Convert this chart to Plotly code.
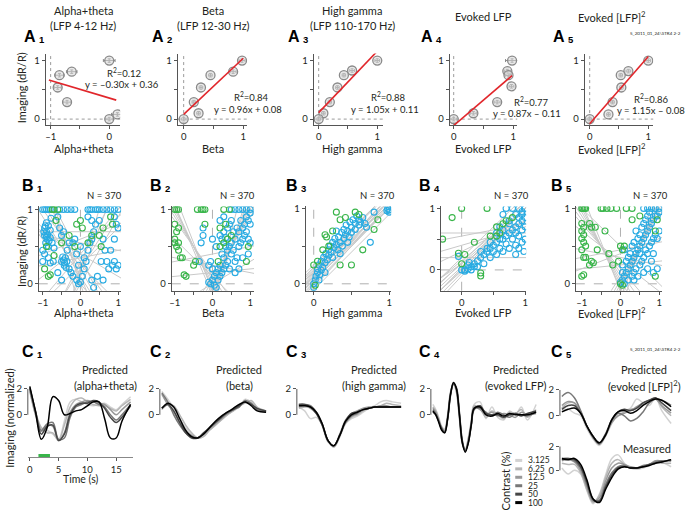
import plotly.graph_objects as go

W, H = 688, 514
FONT = "Lato, 'Open Sans', sans-serif"
BOLD = "'Liberation Sans', Arial, sans-serif"
INK = "#231f20"

# ---------------- Row A data ----------------
a_col_titles = ["Alpha+theta", "Beta", "High gamma", "Evoked LFP", "Evoked [LFP]<sup>2</sup>"]
a_col_sub = ["(LFP 4-12 Hz)", "(LFP 12-30 Hz)", "(LFP 110-170 Hz)", "", ""]
a1_x = [0.0, -0.64, -0.85, -0.88, -0.72, 0.0, 0.14]
a1_y = [1.0, 0.81, 0.75, 0.54, 0.29, 0.0, 0.08]
a1_xerr = [0.1, 0.09, 0.08, 0.06, 0.07, 0.06, 0.1]
a2_x = [0.98, 0.83, 0.45, 0.29, 0.17, 0.25, 0.0]
a2_y = [1.0, 0.81, 0.75, 0.54, 0.29, 0.10, 0.0]
a2_xerr = [0.05, 0.05, 0.03, 0.03, 0.03, 0.03, 0.04]
a3_x = [1.0, 0.57, 0.43, 0.32, 0.19, 0.08, 0.0]
a3_y = [1.0, 0.83, 0.75, 0.54, 0.29, 0.10, 0.0]
a3_xerr = [0.04, 0.04, 0.03, 0.03, 0.03, 0.03, 0.03]
a4_x = [0.98, 0.90, 0.92, 0.97, 0.73, 0.33, 0.0]
a4_y = [1.0, 0.82, 0.75, 0.56, 0.29, 0.10, 0.0]
a4_xerr = [0.11, 0.05, 0.05, 0.04, 0.05, 0.05, 0.05]
a5_x = [1.0, 0.66, 0.53, 0.54, 0.39, 0.32, 0.0]
a5_y = [1.0, 0.82, 0.75, 0.54, 0.29, 0.08, 0.0]
a5_xerr = [0.04, 0.04, 0.03, 0.03, 0.03, 0.03, 0.03]
a_yerr = [0.03, 0.03, 0.03, 0.03, 0.03, 0.03, 0.03]
a_slopes = [-0.30, 0.96, 1.05, 0.87, 1.15]
a_intercepts = [0.36, 0.08, 0.11, -0.11, -0.08]
a_r2 = [0.12, 0.84, 0.88, 0.77, 0.86]
a_fit_lo = [-1.03, 0.0, 0.0, 0.0, 0.0]
a_fit_hi = [0.12, 1.0, 1.02, 0.98, 1.0]
a_ref_x = [-1, 0, 0, 0, 0]

# ---------------- Row B data ----------------
b_n = 370
b1_blue = [[-1.0,1],[-0.95,1],[-0.9,1],[-0.85,1],[-0.8,1],[-0.55,1],[-0.45,1],[-0.35,1],[-0.25,1],[-0.15,1],
           [0.2,1],[0.25,1],[0.3,1],[0.4,1],[0.45,1],[0.5,1],[0.6,1],[0.7,1],[0.8,1],[0.9,1],[1.0,1],
           [-0.95,0.75],[-0.9,0.7],[-0.85,0.78],[-0.8,0.72],[-0.95,0.65],[-0.88,0.6],[-0.92,0.55],[-0.85,0.5],
           [-1.0,0.45],[-0.95,0.4],[-0.8,0.62],[-0.75,0.55],[-0.7,0.48],[-0.9,0.82],[-0.78,0.88],[-1.0,0.3],
           [-0.85,0.35],[-0.8,0.28],[-0.72,0.3],[-0.45,0.32],[-0.42,0.28],[-0.5,0.3],[-0.4,0.35],[-0.38,0.22],
           [-0.3,0.2],[-0.25,0.15],[-0.2,0.1],[-0.35,0.45],[-0.55,0.75],[-0.5,0.65],[-0.45,0.7],[-0.6,0.9],
           [-0.2,0.55],[-0.15,0.6],[-0.1,0.4],[-0.05,0.0],[0.0,0.02],[0.05,0.1],[-0.1,0.05],[0.1,0.2],
           [0.15,0.3],[0.2,0.45],[0.25,0.55],[0.3,0.6],[0.35,0.7],[0.4,0.8],[0.5,0.85],[0.6,0.6],[0.7,0.3],
           [0.75,0.2],[0.85,0.25],[0.9,0.3],[0.95,0.2],[1.0,0.25],[0.3,0.05],[0.35,-0.05],[0.45,0.1],
           [0.55,0.3],[0.65,0.45],[0.8,0.45],[0.9,0.6],[0.95,0.8],[1.0,0.75],[0.9,0.9],[0.6,0.05],[0.0,0.5],
           [-0.05,0.25],[0.1,0.35],[-0.6,0.15],[-0.5,0.05],[-0.3,0.55],[0.2,0.9],[0.3,0.85],
           [-0.97,0.7],[-0.93,0.78],[-0.87,0.66],[-0.83,0.58],[-0.9,0.63],[-0.47,0.36],[-0.43,0.25],[-0.36,0.3]]
b1_green = [[-0.95,0.2],[-0.85,0.1],[-0.8,0.12],[-0.9,0.5],[-0.7,0.38],[-0.65,0.85],[-0.5,0.55],[-0.1,0.8],
            [0.0,0.85],[0.05,0.75],[0.3,0.65],[0.5,0.65],[0.6,0.75],[0.8,0.9],[0.85,0.8],[-0.75,1.0],
            [-0.7,1.0],[-0.6,1.0],[0.55,0.5],[-0.3,0.65],[-0.15,0.5],[0.2,0.55]]
b1_line_slopes = [-1.2, -0.9, -0.7, -0.5, -1.5, -0.3, -0.8, 1.0, 0.8, 0.6, 1.3, 0.4, 0.2, -0.1, 0.0, 0.1, -0.6, 0.9, -1.0, 0.5, 1.6, -2.0]
b1_line_icpts = [0.1, 0.2, 0.3, 0.25, 0.0, 0.4, 0.1, 0.3, 0.2, 0.4, 0.1, 0.5, 0.6, 0.55, 0.7, 0.35, 0.0, 0.0, 0.35, 0.25, 0.2, -0.4]

b2_blue = [[0.5,1],[0.6,1],[0.7,1],[0.8,1],[0.9,1],[1,1],[1,0.95],[0.95,0.85],[0.9,0.9],[0.85,0.8],[0.8,0.75],
           [0.75,0.85],[0.7,0.7],[0.65,0.75],[0.6,0.6],[0.55,0.7],[0.5,0.55],[0.45,0.5],[0.4,0.45],[0.35,0.5],
           [0.3,0.35],[0.25,0.4],[0.2,0.25],[0.15,0.2],[0.1,0.15],[0.05,0.1],[0.0,0.05],[-0.05,0.0],[-0.1,0.02],
           [0.05,-0.02],[0.1,-0.05],[0.2,0.1],[0.25,0.15],[0.3,0.2],[0.35,0.25],[0.4,0.3],[0.45,0.2],[0.5,0.4],
           [0.55,0.45],[0.6,0.3],[0.65,0.35],[0.7,0.5],[0.75,0.55],[0.8,0.6],[0.85,0.65],[0.9,0.7],[0.95,0.6],
           [1.0,0.8],[0.3,0.7],[0.25,0.6],[0.2,0.65],[0.35,0.62],[0.45,0.8],[0.5,0.85],[0.4,0.75],[0.1,0.5],
           [-0.05,0.3],[-0.1,0.25],[-0.25,0.65],[-0.25,0.75],[-0.3,0.55],[-0.35,0.3],[0.15,0.05],[0.0,0.2],
           [0.6,0.15],[0.7,0.2],[0.95,0.4],[0.8,0.35],[0.2,0.85],[0.3,0.9],[1.0,0.55],[0.0,0.6]]
b2_green = [[-1,1],[-0.95,1],[-0.9,1],[-0.4,1],[-0.3,1],[-0.25,1],[-0.2,1],[0.3,1],[0.45,1],[-1,0.8],[-0.95,0.7],
            [-0.9,0.75],[-1,0.55],[-0.95,0.5],[-0.9,0.45],[-0.85,0.35],[-0.8,0.35],[-1.0,0.6],[-0.9,0.55],
            [-0.5,0.25],[-0.45,0.3],[-0.7,0.1],[-0.75,0.12],[0.2,0.5],[0.3,0.55],[0.2,0.75],[0.35,0.8],[0.4,0.6],
            [0.5,0.65],[0.9,0.3],[0.95,0.5],[0.15,0.3],[-0.2,0.8]]
b2_line_slopes = [-1.0, -0.9, -1.1, -0.8, -1.3, -0.7, 1.0, 1.1, 0.9, 1.2, 0.8, 1.4, 0.1, -0.1, 0.05, 0.3, -0.5, 1.6, -1.2, 2.0]
b2_line_icpts = [0.0, 0.05, -0.05, 0.1, -0.1, 0.15, 0.0, -0.05, 0.05, -0.1, 0.1, -0.2, 0.4, 0.25, 0.15, 0.0, 0.1, -0.3, -0.15, -0.3]

b3_blue = [[0,0],[0,-0.05],[0.02,0.05],[0.03,0.1],[0.05,0.15],[0.05,0.2],[0.07,0.25],[0.08,0.12],[0.1,0.18],
           [0.1,0.3],[0.12,0.22],[0.13,0.35],[0.15,0.28],[0.16,0.4],[0.18,0.32],[0.2,0.45],[0.2,0.38],[0.22,0.5],
           [0.23,0.42],[0.25,0.55],[0.25,0.35],[0.27,0.48],[0.28,0.6],[0.3,0.52],[0.3,0.7],[0.32,0.45],[0.33,0.62],
           [0.35,0.55],[0.37,0.68],[0.38,0.5],[0.4,0.72],[0.4,0.6],[0.42,0.65],[0.43,0.78],[0.45,0.7],[0.47,0.62],
           [0.48,0.82],[0.5,0.75],[0.5,0.68],[0.52,0.85],[0.55,0.8],[0.55,0.72],[0.57,0.9],[0.6,0.85],[0.6,0.78],
           [0.62,0.82],[0.65,0.88],[0.68,0.8],[0.7,0.75],[0.75,0.55],[0.8,0.95],[0.98,1],[1,0.95],[1,0.98],
           [0.97,0.97],[0.15,0.15],[0.07,0.05],[0.35,0.4],[0.45,0.55]]
b3_green = [[0.3,0.95],[0.35,0.85],[0.15,0.65],[0.17,0.62],[0.2,0.5],[0.12,0.45],[0.05,0.3],[0.0,0.25],[0.55,0.95],
            [0.6,0.92],[0.65,0.45],[0.8,0.72],[0.85,0.85],[0.5,0.25],[0.35,0.25],[0.02,-0.02],[0.42,0.88],[0.25,0.7]]
b3_line_slopes = [1.0, 0.95, 1.05, 0.9, 1.1, 1.0, 0.98, 1.02, 0.92, 1.08, 1.0, 0.96, 1.04, 0.9, 1.1, 1.0, 0.97, 1.03, 0.94, 1.06]
b3_line_icpts = [0.0, 0.05, 0.1, 0.15, -0.05, 0.2, 0.08, 0.12, 0.18, 0.02, -0.08, 0.25, 0.06, 0.1, 0.14, 0.22, 0.04, -0.02, 0.16, 0.1]

b4_blue = [[-0.05,0.22],[0.0,0.0],[0.05,0.0],[0.1,0.02],[0.15,0.05],[0.2,0.1],[0.25,0.15],[0.3,0.2],[0.35,0.25],
           [0.4,0.3],[0.45,0.35],[0.5,0.4],[0.55,0.45],[0.6,0.35],[0.65,0.5],[0.7,0.55],[0.75,0.6],[0.8,0.65],
           [0.85,0.7],[0.9,0.75],[0.95,0.8],[1.0,0.85],[0.1,0.08],[0.2,0.05],[0.45,0.2],[0.55,0.25],[0.65,0.3],
           [0.75,0.35],[0.85,0.4],[0.95,0.45],[1.0,0.5],[0.9,0.55],[0.8,0.5],[0.7,0.42],[0.6,0.5],[0.75,0.8],
           [0.85,0.9],[0.9,1.0],[0.95,0.95],[1.0,1.0],[0.8,1.0],[0.7,1.0],[0.65,0.9],[0.75,0.75],[0.85,0.6],
           [0.95,0.65],[1.0,0.7],[0.9,0.85],[0.55,0.6],[0.45,0.45],[0.35,0.1],[0.25,0.05],[0.15,0.0],[0.05,-0.02],
           [0.12,0.12],[0.6,0.7],[0.9,0.35],[0.98,0.3],[0.85,0.25],[0.5,0.3],[0.4,0.35],[0.3,0.3],[0.65,0.65],[0.95,0.9]]
b4_green = [[0,1],[-0.15,0.85],[-0.3,0.5],[-0.05,0.27],[0,0.1],[0.05,0.25],[0.4,1.0],[0.55,0.55],[0.6,0.6],
            [0.55,0.7],[0.45,0.55],[0.65,0.75],[0.7,0.8],[0.3,-0.05],[0.3,-0.1],[0.8,0.85],[0.2,0.45]]
b4_line_slopes = [1.0, 0.95, 1.05, 0.9, 1.1, 0.85, 1.0, 0.92, 1.08, 0.0, 0.0, 0.3, 0.5, 0.2, 0.7, 1.0]
b4_line_icpts = [0.0, 0.05, -0.05, 0.1, -0.1, 0.15, 0.12, -0.02, 0.03, 0.6, 0.2, 0.4, 0.3, 0.55, 0.1, 0.2]

b5_blue = [[0.6,1],[0.7,1],[0.8,1],[0.9,1],[1,1],[1,0.95],[0.95,0.9],[0.9,0.9],[0.85,0.85],[0.8,0.8],[0.75,0.75],
           [0.7,0.7],[0.65,0.65],[0.6,0.6],[0.55,0.55],[0.5,0.5],[0.45,0.45],[0.4,0.4],[0.35,0.35],[0.3,0.3],
           [0.25,0.25],[0.2,0.2],[0.15,0.15],[0.1,0.1],[0.05,0.05],[0.0,0.02],[0.1,0.0],[0.2,0.05],[0.3,0.1],
           [0.35,0.15],[0.4,0.2],[0.5,0.25],[0.55,0.3],[0.6,0.35],[0.7,0.4],[0.75,0.5],[0.8,0.55],[0.85,0.6],
           [0.9,0.65],[0.95,0.6],[1.0,0.7],[0.5,0.65],[0.45,0.6],[0.55,0.75],[0.6,0.8],[0.65,0.85],[0.7,0.9],
           [0.75,0.95],[0.4,0.7],[0.35,0.55],[0.3,0.5],[0.25,0.4],[0.2,0.35],[0.6,0.15],[0.7,0.2],[0.85,0.15],
           [0.95,0.2],[0.45,0.1],[0.35,0.05],[0.8,0.3],[0.65,0.45],[0.5,0.4],[0.85,0.4],[0.15,0.3],[0.1,0.45],
           [0.05,0.25],[0.05,0.15]]
b5_green = [[-1,1],[-0.97,1],[-0.93,1],[-0.9,1],[-0.5,1],[-0.45,1],[-0.35,1],[-0.25,1],[-0.1,1],[0.15,1],[0.3,1],
            [-1,0.8],[-0.95,0.75],[-1,0.7],[-0.95,0.65],[-1,0.6],[-0.95,0.55],[-0.9,0.5],[-1,0.45],[-0.95,0.35],
            [-0.9,0.35],[-0.75,0.3],[-0.7,0.28],[-0.8,0.25],[-1,0.1],[-0.95,0.12],[-0.8,0.8],[-0.75,0.75],
            [-0.65,0.75],[-0.6,0.45],[-0.4,0.7],[0.0,0.5],[0.05,0.45],[0.1,0.5],[-0.2,0.25],[-0.05,0.3],[0.3,0.85],
            [0.5,0.9],[0.9,0.7],[0.95,0.85],[0.0,0.0],[0.05,-0.02],[-0.3,0.4],[0.9,0.1]]
b5_line_slopes = [-1.0, -0.9, -1.1, -0.8, -1.3, -0.7, -0.6, 1.0, 1.1, 0.9, 1.2, 0.8, 1.4, 0.1, -0.1, 0.05, 0.2, -0.4, 1.8, -0.5]
b5_line_icpts = [0.0, 0.05, -0.05, 0.1, -0.1, 0.15, 0.2, 0.0, -0.05, 0.05, -0.1, 0.1, -0.2, 0.45, 0.35, 0.25, 0.4, 0.3, -0.4, 0.5]

# ---------------- Row C data ----------------
contrast_labels = ["3.125", "6.25", "12.5", "25", "50", "100"]
contrast_colors = ["#d2d2d2", "#b6b6b6", "#999999", "#787878", "#464646", "#000000"]
t_std = [0, 1, 2, 3, 4, 5, 6, 7, 8, 9, 10, 11, 12, 13, 14, 15, 16, 17.5]
t_c4 = [0, 0.5, 1, 1.5, 2, 2.5, 3, 3.5, 4, 4.5, 5, 5.5, 6, 6.5, 7, 8, 9, 10, 11, 12, 13, 14, 15, 16, 17.5]
stim_on_off = [1.5, 3.5]
c1_curves = [
    [1.8, 0.0, -1.0, -1.2, -1.5, -1.9, -0.5, 1.0, 1.2, 1.0, 0.8, 0.7, 0.8, 0.9, 0.6, 0.4, 0.8, 1.4],
    [2.0, 0.2, -1.0, -1.4, -1.4, -2.0, -0.8, 0.6, 1.2, 1.3, 1.0, 0.8, 0.7, 0.7, 0.5, 0.3, 0.7, 1.2],
    [1.9, 0.0, -1.3, -0.8, -0.9, -2.0, -1.4, 0.2, 0.8, 1.0, 1.1, 1.0, 0.9, 0.8, 0.4, 0.0, 0.4, 1.0],
    [2.0, 0.2, -1.2, -0.7, -0.6, -1.9, -1.8, -0.2, 0.6, 0.8, 1.0, 1.0, 0.8, 0.6, 0.0, -0.4, 0.0, 0.8],
    [2.1, 0.3, -1.5, -0.9, -0.8, -2.0, -1.5, 0.0, 0.7, 0.9, 0.9, 1.1, 1.0, 0.5, -0.2, -0.6, -0.2, 0.7],
    [2.2, 0.2, -1.9, -1.0, 1.4, 1.1, 0.0, 0.1, 0.3, 0.4, 0.7, 1.0, 1.0, -0.3, -1.8, -1.8, -0.5, 0.8],
]
c2_curves = [
    [1.8, 1.2, 0.5, -0.3, -1.0, -1.5, -1.8, -1.6, -1.2, -0.8, -0.4, 0.0, 0.3, 0.6, 1.2, 1.0, 0.5, 0.2],
    [0.4, 0.8, 0.7, 0.0, -0.8, -1.4, -1.8, -1.7, -1.2, -0.8, -0.4, 0.0, 0.3, 0.7, 0.9, 1.1, 0.6, 0.3],
    [1.6, 0.8, 0.2, -0.6, -1.3, -1.6, -1.8, -1.5, -1.1, -0.7, -0.3, 0.1, 0.4, 0.8, 1.0, 0.8, 0.4, 0.2],
    [1.7, 1.0, 0.0, -0.8, -1.4, -1.7, -1.8, -1.5, -1.0, -0.6, -0.2, 0.1, 0.4, 0.6, 1.1, 0.9, 0.4, 0.3],
    [0.5, 0.8, 0.3, -0.6, -1.4, -1.8, -1.8, -1.4, -1.0, -0.6, -0.2, 0.2, 0.4, 0.7, 1.0, 0.8, 0.5, 0.3],
    [0.5, 0.9, 0.6, -0.3, -1.2, -1.7, -1.8, -1.5, -1.0, -0.5, -0.1, 0.2, 0.5, 0.8, 1.0, 0.7, 0.3, 0.2],
]
c3_curves = [
    [0.6, 0.3, -0.3, -0.2, -0.8, -2.0, -2.5, -1.7, -0.7, -0.3, -0.1, 0.2, 0.5, 0.7, 1.0, 1.1, 1.0, 0.9],
    [0.5, 0.6, 0.6, 0.2, -0.7, -2.0, -2.5, -1.7, -0.6, -0.2, 0.0, 0.3, 0.5, 0.6, 0.7, 0.9, 0.8, 0.7],
    [0.6, 0.7, 0.5, 0.1, -0.8, -2.1, -2.4, -1.5, -0.4, 0.1, 0.3, 0.5, 0.6, 0.6, 0.7, 0.7, 0.6, 0.6],
    [0.8, 0.8, 0.7, 0.2, -0.7, -2.0, -2.4, -1.6, -0.6, -0.1, 0.1, 0.4, 0.5, 0.6, 0.6, 0.6, 0.6, 0.6],
    [0.8, 0.8, 0.6, 0.1, -0.8, -2.0, -2.4, -1.6, -0.5, 0.1, 0.2, 0.4, 0.5, 0.6, 0.6, 0.6, 0.6, 0.6],
    [0.7, 0.7, 0.6, 0.2, -0.7, -2.0, -2.4, -1.6, -0.5, 0.0, 0.2, 0.4, 0.5, 0.6, 0.6, 0.6, 0.6, 0.6],
]
c4_curves = [
    [0.8, 0.4, -0.2, -0.9, -1.1, 0.0, 1.8, 2.3, 1.7, -0.3, -2.3, -2.7, -1.8, -0.5, 0.8, 1.0, -0.3, 0.6, -0.2, -0.4, 0.3, 0.0, 0.6, -0.4, 0.8],
    [0.6, 0.3, -0.3, -1.0, -1.2, -0.1, 1.7, 2.4, 1.8, -0.2, -2.2, -2.7, -1.9, -0.6, 0.7, 0.5, -0.2, 0.3, 0.0, -0.3, 0.2, 0.1, 0.4, -0.2, 0.4],
    [0.5, 0.2, -0.4, -1.1, -1.3, -0.2, 1.7, 2.5, 1.9, -0.1, -2.2, -2.8, -2.0, -0.7, 0.6, 0.4, 0.0, 0.2, -0.1, 0.1, 0.0, -0.2, 0.2, 0.0, 0.1],
    [0.4, 0.1, -0.5, -1.0, -1.3, -0.3, 1.6, 2.4, 2.0, 0.1, -2.1, -2.8, -2.1, -0.8, 0.5, 0.5, 0.2, -0.1, 0.2, 0.0, -0.2, 0.1, 0.0, -0.1, 0.2],
    [0.2, 0.0, -0.5, -1.1, -1.4, -0.4, 1.5, 2.4, 2.1, 0.2, -2.0, -2.8, -2.2, -0.9, 0.4, 0.7, 0.1, 0.0, 0.0, -0.2, 0.0, 0.1, -0.1, 0.1, 0.3],
    [0.3, 0.0, -0.6, -1.2, -1.4, -0.3, 1.6, 2.5, 2.0, 0.0, -2.2, -2.9, -2.2, -0.8, 0.5, 0.6, 0.0, -0.1, 0.1, -0.1, 0.1, 0.0, 0.0, 0.0, 0.2],
]
c5_curves = [
    [0.4, 0.5, 0.2, 0.0, -1.0, -1.8, -2.3, -1.6, -0.6, 0.2, 0.4, 0.6, 1.3, 1.0, 0.8, 1.4, 0.4, -0.6],
    [0.6, 1.0, 1.0, 0.3, -0.8, -1.6, -2.2, -1.5, -0.5, 0.0, 0.3, 0.5, 0.6, 0.9, 1.2, 1.4, 0.7, 0.0],
    [0.8, 1.1, 1.0, 0.3, -0.8, -1.6, -2.1, -1.5, -0.5, 0.0, 0.2, 0.4, 0.7, 1.0, 1.2, 1.3, 0.8, 0.2],
    [1.5, 1.8, 1.4, 0.4, -0.8, -1.7, -2.2, -1.5, -0.4, 0.2, 0.0, -0.4, -0.2, 0.3, 1.0, 1.3, 1.2, 0.8],
    [0.5, 0.8, 0.8, 0.2, -0.8, -1.6, -2.1, -1.4, -0.3, 0.3, 0.5, 0.4, 0.6, 1.0, 1.2, 1.4, 1.0, 0.4],
    [0.3, 0.5, 0.6, 0.2, -0.8, -1.6, -2.1, -1.5, -0.3, 0.3, 0.4, 0.2, 0.4, 0.8, 1.1, 1.3, 1.2, 0.7],
]
measured_curves = [
    [0.2, -0.3, 0.0, -0.3, -1.7, -2.8, -2.0, -0.4, 1.0, 1.3, 0.6, 0.2, 0.1, 0.2, 0.4, 0.8, 0.7, 0.3],
    [0.6, 0.5, 0.5, -0.2, -1.6, -2.7, -2.1, -0.6, 0.6, 0.9, 0.5, 0.2, 0.2, 0.3, 0.5, 0.7, 0.6, 0.6],
    [0.8, 0.9, 0.7, 0.0, -1.4, -2.6, -2.3, -0.9, 0.2, 0.6, 0.5, 0.3, 0.2, 0.3, 0.5, 0.8, 0.8, 0.8],
    [1.0, 1.0, 0.8, 0.2, -1.2, -2.5, -2.5, -1.2, -0.2, 0.3, 0.4, 0.2, 0.2, 0.4, 0.5, 0.7, 0.8, 0.8],
    [0.9, 1.0, 0.9, 0.3, -1.0, -2.4, -2.6, -1.4, -0.4, 0.2, 0.3, 0.2, 0.2, 0.3, 0.5, 0.6, 0.7, 0.9],
    [1.0, 0.9, 1.0, 0.5, -0.8, -2.4, -2.7, -1.6, -0.6, 0.1, 0.3, 0.2, 0.2, 0.3, 0.4, 0.6, 0.7, 0.9],
]
c_titles = ["(alpha+theta)", "(beta)", "(high gamma)", "(evoked LFP)", "(evoked [LFP]<sup>2</sup>)"]
file_tag = "5_2011_01_24\\STR4 2-2"

# ---------------- figure building ----------------
fig = go.Figure()
layout = {}
shapes = []
annotations = []


def px_range(lo_px, hi_px, pa, va, pb, vb):
    k = (vb - va) / (pb - pa)
    return [va + (lo_px - pa) * k, va + (hi_px - pa) * k]


def axname(i, a):
    return f"{a}axis" if i == 1 else f"{a}axis{i}"


def ref(i, a):
    return a if i == 1 else f"{a}{i}"


AX = dict(showgrid=False, zeroline=False, linecolor="#555555", linewidth=1, ticks="outside",
          ticklen=3, tickwidth=1, tickcolor="#555555", tickfont=dict(size=9.5, color=INK, family=FONT),
          fixedrange=True)


def set_axes(i, box, xcal, ycal, xticks=None, yticks=None, xvisible=True, yline=True):
    l, r, t, b = box
    xr = px_range(l, r, *xcal)
    yr = px_range(b, t, *ycal)
    xa = dict(AX, domain=[l / W, r / W], range=xr, anchor=ref(i, "y"))
    ya = dict(AX, domain=[1 - b / H, 1 - t / H], range=yr, anchor=ref(i, "x"))
    if xticks:
        xa.update(tickvals=xticks[0], ticktext=[str(v).replace("-", "\u2013") for v in xticks[0]], showline=True)
        if len(xticks) > 1:
            xa.update(minor=dict(tickvals=xticks[1], ticks="outside", ticklen=3, tickcolor="#555555"))
    if not xvisible:
        xa.update(showline=False, ticks="", showticklabels=False)
    if yticks:
        ya.update(tickvals=yticks[0], ticktext=[str(v) for v in yticks[0]])
        if len(yticks) > 1:
            ya.update(minor=dict(tickvals=yticks[1], ticks="outside", ticklen=3, tickcolor="#555555"))
    ya.update(showline=yline)
    layout[axname(i, "x")] = xa
    layout[axname(i, "y")] = ya
    return xr, yr


def ann(text, px, py, size=11, xanchor="center", yanchor="middle", angle=0, family=FONT, color=INK):
    annotations.append(dict(text=text, x=px / W, y=1 - py / H, xref="paper", yref="paper", showarrow=False,
                            xanchor=xanchor, yanchor=yanchor, textangle=angle,
                            font=dict(size=size, family=family, color=color)))


def panel_label(letter, num, px, py):
    ann(f"<b>{letter}</b>", px, py, size=16, family=BOLD, color="#000")
    ann(f"<b>{num}</b>", px + 7, py + 3, size=9.5, family=BOLD, color="#000", xanchor="left")


def fmt_eq(s, b):
    sign = "+" if b >= 0 else "\u2013"
    st = f"{s:.2f}".replace("-", "\u2013")
    return f"y = {st}x {sign} {abs(b):.2f}"


# ---------- Row A ----------
a_x = [a1_x, a2_x, a3_x, a4_x, a5_x]
a_y = [a1_y, a2_y, a3_y, a4_y, a5_y]
a_xerr = [a1_xerr, a2_xerr, a3_xerr, a4_xerr, a5_xerr]
a_boxes = [(43, 118, 50, 122), (176, 246, 50, 122), (313, 383, 50, 122), (450, 518, 50, 122), (586, 655, 50, 122)]
a_xcal = [(48, -1, 107, 0), (182, 0, 242, 1), (318, 0, 377, 1), (454, 0, 514, 1), (591, 0, 650, 1)]
a_ycal = (116, 0, 57, 1)
a_title_x = [81, 212, 352, 484, 613]
a_label_x = [27, 156, 293, 427, 560]
a_r2_pos = [(122, 69), (250, 93), (388, 93), (532, 98), (653, 95)]
a_eq_pos = [(120, 81), (247, 106), (385, 106), (528, 110), (653, 107)]
for k in range(5):
    i = k + 1
    xt = ([-1, 0], [-0.5]) if k == 0 else ([0, 1], [0.5])
    yt = ([0, 1], [0.5])
    xr, yr = set_axes(i, a_boxes[k], a_xcal[k], a_ycal, xt, yt)
    shapes.append(dict(type="line", xref=ref(i, "x"), yref=f"{ref(i, 'y')} domain", x0=a_ref_x[k], x1=a_ref_x[k],
                       y0=0, y1=1, line=dict(color="#9a9a9a", width=1, dash="dot"), layer="below"))
    shapes.append(dict(type="line", xref=f"{ref(i, 'x')} domain", yref=ref(i, "y"), x0=0, x1=1, y0=0, y1=0,
                       line=dict(color="#9a9a9a", width=1, dash="dot"), layer="below"))
    fig.add_trace(go.Scatter(x=a_x[k], y=a_y[k], mode="markers", xaxis=ref(i, "x"), yaxis=ref(i, "y"),
                             marker=dict(size=9, color="rgba(215,215,215,0.55)", line=dict(color="#8a8a8a", width=1.3)),
                             error_x=dict(type="data", array=a_xerr[k], color="#8a8a8a", thickness=1, width=1.5),
                             error_y=dict(type="data", array=a_yerr, color="#8a8a8a", thickness=1, width=1.5),
                             showlegend=False, hoverinfo="skip"))
    lo, hi = a_fit_lo[k], a_fit_hi[k]
    fig.add_trace(go.Scatter(x=[lo, hi], y=[a_slopes[k] * lo + a_intercepts[k], a_slopes[k] * hi + a_intercepts[k]],
                             mode="lines", line=dict(color="#e1262b", width=1.6), xaxis=ref(i, "x"),
                             yaxis=ref(i, "y"), showlegend=False, hoverinfo="skip", cliponaxis=False))
    ann(f"R<sup>2</sup>={a_r2[k]:.2f}", *a_r2_pos[k], size=9.5)
    ann(fmt_eq(a_slopes[k], a_intercepts[k]), *a_eq_pos[k], size=9.5)
    ann(a_col_titles[k], a_title_x[k], 146, size=11)
    panel_label("A", k + 1, a_label_x[k], 33)
    if a_col_sub[k]:
        ann(a_col_titles[k], a_title_x[k], 7, size=11)
        ann(a_col_sub[k], a_title_x[k], 22, size=11)
    else:
        ann(a_col_titles[k], a_title_x[k], 13, size=11)
ann("Imaging (dR/R)", 18, 84, size=11, angle=-90)
ann(file_tag, 657, 30, size=4.5)

# ---------- Row B ----------
b_blue = [b1_blue, b2_blue, b3_blue, b4_blue, b5_blue]
b_green = [b1_green, b2_green, b3_green, b4_green, b5_green]
b_slopes = [b1_line_slopes, b2_line_slopes, b3_line_slopes, b4_line_slopes, b5_line_slopes]
b_icpts = [b1_line_icpts, b2_line_icpts, b3_line_icpts, b4_line_icpts, b5_line_icpts]
b_boxes = [(36, 119, 204, 289), (170, 253, 204, 289), (305, 391, 204, 289), (441, 527, 204, 289), (577, 664, 204, 289)]
b_xcal = [(40, -1, 116, 1), (173, -1, 249, 1), (313, 0, 389, 1), (462, 0, 526, 1), (583, -1, 661, 1)]
b_ycal = [(282, 0, 207, 1), (282, 0, 207, 1), (282, 0, 206, 1), (268, 0, 206, 1), (282, 0, 206, 1)]
b_n_x = [102, 236, 377, 512, 652]
b_xt_full = ([-1, 0, 1], [-0.5, 0.5])
b_xt_half = ([0, 1], [0.5])
b_xt = [b_xt_full, b_xt_full, b_xt_half, b_xt_half, b_xt_full]
for k in range(5):
    i = 6 + k
    xr, yr = set_axes(i, b_boxes[k], b_xcal[k], b_ycal[k], b_xt[k], ([0, 1], [0.5]))
    for s, c in zip(b_slopes[k], b_icpts[k]):
        fig.add_trace(go.Scatter(x=[xr[0], xr[1]], y=[s * xr[0] + c, s * xr[1] + c], mode="lines",
                                 line=dict(color="#c9c9c9", width=1), xaxis=ref(i, "x"), yaxis=ref(i, "y"),
                                 showlegend=False, hoverinfo="skip"))
    shapes.append(dict(type="line", xref=ref(i, "x"), yref=f"{ref(i, 'y')} domain", x0=0, x1=0, y0=0, y1=1,
                       line=dict(color="#b0b0b0", width=1, dash="dash"), layer="below"))
    shapes.append(dict(type="line", xref=f"{ref(i, 'x')} domain", yref=ref(i, "y"), x0=0, x1=1, y0=0, y1=0,
                       line=dict(color="#b0b0b0", width=1, dash="dash"), layer="below"))
    fig.add_trace(go.Scatter(x=[p[0] for p in b_blue[k]], y=[p[1] for p in b_blue[k]], mode="markers",
                             marker=dict(symbol="circle-open", size=6, color="#29abe2", line=dict(width=1.1)),
                             xaxis=ref(i, "x"), yaxis=ref(i, "y"), showlegend=False, hoverinfo="skip"))
    fig.add_trace(go.Scatter(x=[p[0] for p in b_green[k]], y=[p[1] for p in b_green[k]], mode="markers",
                             marker=dict(symbol="circle-open", size=6, color="#39b54a", line=dict(width=1.1)),
                             xaxis=ref(i, "x"), yaxis=ref(i, "y"), showlegend=False, hoverinfo="skip"))
    ann(f"N = {b_n}", b_n_x[k], 193, size=9.5)
    ann(a_col_titles[k], a_title_x[k], 311, size=11)
    panel_label("B", k + 1, a_label_x[k] - 2, 183)
ann("Imaging (dR/R)", 18, 249, size=11, angle=-90)

# ---------- Row C ----------
c_curves = [c1_curves, c2_curves, c3_curves, c4_curves, c5_curves]
c_times = [t_std, t_std, t_std, t_c4, t_std]
c_boxes = [(25, 131, 380, 457), (158, 266, 380, 457), (296, 404, 380, 457), (431, 539, 380, 457), (561, 676, 380, 457)]
c_xcal = [(27, 0, 114, 15), (160, 0, 265, 17.5), (298, 0, 401, 17.5), (433, 0, 537, 17.5), (563, 0, 673, 17.5)]
c_ycal = [(414, 0, 388, 2), (414, 0, 388, 2), (414, 0, 388, 2), (414, 0, 388, 2), (415, 0, 389, 2)]
c_title_x = [103, 238, 374, 517, 646]


def add_curves(i, times, curves):
    for idx, vals in enumerate(curves):
        fig.add_trace(go.Scatter(x=times, y=vals, mode="lines", line=dict(color=contrast_colors[idx], width=1.5,
                                 shape="spline", smoothing=1.0), xaxis=ref(i, "x"), yaxis=ref(i, "y"),
                                 showlegend=False, hoverinfo="skip"))


def ybar(i):
    shapes.append(dict(type="line", xref=f"{ref(i, 'x')} domain", yref=ref(i, "y"), x0=0, x1=0, y0=0, y1=2,
                       line=dict(color="#555555", width=1)))


for k in range(5):
    i = 11 + k
    if k == 0:
        set_axes(i, c_boxes[k], c_xcal[k], c_ycal[k], ([0, 5, 10, 15],), ([0, 2],), xvisible=True, yline=False)
        layout[axname(i, "x")]["linecolor"] = "#888888"
    else:
        set_axes(i, c_boxes[k], c_xcal[k], c_ycal[k], None, ([0, 2],), xvisible=False, yline=False)
    ybar(i)
    add_curves(i, c_times[k], c_curves[k])
    ann("Predicted", c_title_x[k], 368, size=11)
    ann(c_titles[k], c_title_x[k], 384, size=11)
    panel_label("C", k + 1, a_label_x[k] - 2, 350)

# stimulus bar in C1
fig.add_trace(go.Scatter(x=stim_on_off, y=[-3.15, -3.15], mode="lines", line=dict(color="#39b54a", width=3),
                         xaxis="x11", yaxis="y11", showlegend=False, hoverinfo="skip"))

# measured panel
set_axes(16, (561, 676, 440, 512), (563, 0, 673, 17.5), (470, 0, 446, 2), None, ([0, 2],),
         xvisible=False, yline=False)
ybar(16)
add_curves(16, t_std, measured_curves)
ann("Measured", 649, 448, size=11)

ann("Time (s)", 78, 479, size=10.5)
ann("Imaging (normalized)", 7, 417, size=11, angle=-90)
ann(file_tag, 657, 348, size=4.5)

# contrast legend
legend_y = [460, 468.5, 477, 485.5, 494, 502.5]
for idx, lab in enumerate(contrast_labels):
    shapes.append(dict(type="line", xref="paper", yref="paper", x0=516 / W, x1=523 / W,
                       y0=1 - legend_y[idx] / H, y1=1 - legend_y[idx] / H,
                       line=dict(color=contrast_colors[idx], width=3)))
    ann(lab, 527, legend_y[idx], size=8.5, xanchor="left")
ann("Contrast (%)", 506, 481, size=11, angle=-90)

layout.update(width=W, height=H, margin=dict(l=0, r=0, t=0, b=0), paper_bgcolor="white",
              plot_bgcolor="rgba(0,0,0,0)", showlegend=False, shapes=shapes, annotations=annotations,
              font=dict(family=FONT, color=INK))
fig.update_layout(**layout)
fig.write_html("out.html", config={"displayModeBar": False},
               post_script="document.body.style.margin='0';document.body.style.overflow='hidden';")
